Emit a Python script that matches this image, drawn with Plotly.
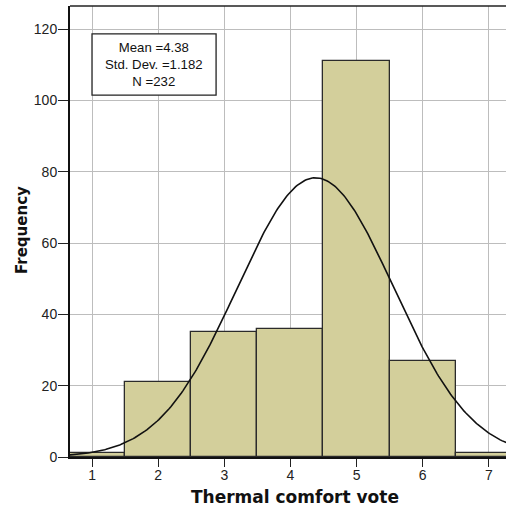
import numpy as np
import plotly.graph_objects as go

# Data
votes = [1, 2, 3, 4, 5, 6, 7]
frequency = [1, 21, 35, 36, 111, 27, 1]
mean_val = 4.38
std_val = 1.182
n_val = 232
x_ticks = [1, 2, 3, 4, 5, 6, 7]
y_ticks = [0, 20, 40, 60, 80, 100, 120]
stats_lines = [f"Mean ={mean_val}", f"Std. Dev. ={std_val}", f"N ={n_val}"]

FONT = "Arial, Liberation Sans, sans-serif"
TFONT = "DejaVu Sans, Arial, sans-serif"

# Fitted normal curve from the reported statistics (bin width 1)
xc = np.linspace(0.6, 7.4, 300)
yc = n_val * 1.0 / (std_val * np.sqrt(2 * np.pi)) * np.exp(-0.5 * ((xc - mean_val) / std_val) ** 2)

fig = go.Figure()
fig.add_trace(go.Bar(
    x=votes, y=frequency, width=1.0,
    marker=dict(color="#d3cf9b", line=dict(color="#2b2b2b", width=1.3)),
    showlegend=False, hoverinfo="x+y",
))
fig.add_trace(go.Scatter(
    x=xc, y=yc, mode="lines",
    line=dict(color="#111111", width=1.6),
    showlegend=False, hoverinfo="skip",
))

# stats box
fig.add_shape(type="rect", xref="x", yref="y", x0=1.0, x1=2.876, y0=101.5, y1=118.7,
              line=dict(color="#222222", width=1.3), fillcolor="white", layer="above")
fig.add_annotation(
    x=1.938, y=110.0, xref="x", yref="y", text="<br>".join(stats_lines),
    showarrow=False, align="center", yanchor="middle", borderpad=0,
    font=dict(family=FONT, size=13.2, color="#111111"),
)

# axis titles
fig.add_annotation(x=(295 - 70) / 436, y=(457 - 497) / 451, xref="paper", yref="paper",
                   text="<b>Thermal comfort vote</b>", showarrow=False,
                   xanchor="center", yanchor="middle",
                   font=dict(family=TFONT, size=17, color="#111111"))
fig.add_annotation(x=(22 - 70) / 436, y=(457 - 230) / 451, xref="paper", yref="paper",
                   text="<b>Frequency</b>", showarrow=False, textangle=-90,
                   xanchor="center", yanchor="middle",
                   font=dict(family=TFONT, size=15, color="#111111"))

# top border
fig.add_shape(type="line", xref="paper", yref="paper", x0=0, x1=1, y0=1, y1=1,
              line=dict(color="#222222", width=1.5))

fig.update_layout(
    width=506, height=511,
    margin=dict(l=70, r=0, t=6, b=54, autoexpand=False),
    paper_bgcolor="white", plot_bgcolor="white",
    bargap=0,
    font=dict(family=FONT, size=14, color="#222222"),
    xaxis=dict(
        range=[0.667, 7.26], tickmode="array", tickvals=x_ticks,
        ticks="outside", ticklen=8, tickwidth=1.3, tickcolor="#222222",
        ticklabelstandoff=-4,
        showgrid=True, gridcolor="#bdbdbd", gridwidth=1,
        showline=True, linecolor="#111111", linewidth=2,
        zeroline=False, automargin=False,
        tickfont=dict(family=FONT, size=14, color="#222222"),
    ),
    yaxis=dict(
        range=[0, 126.5], tickmode="array", tickvals=y_ticks,
        ticks="outside", ticklen=10, tickwidth=1.3, tickcolor="#222222",
        ticklabelstandoff=-2,
        showgrid=True, gridcolor="#bdbdbd", gridwidth=1,
        showline=True, linecolor="#111111", linewidth=2,
        zeroline=False, automargin=False,
        tickfont=dict(family=FONT, size=14, color="#222222"),
    ),
)

post = ("document.body.style.margin='0';document.body.style.padding='0';"
        "document.body.style.overflow='hidden';"
        "Plotly.relayout('{plot_id}', {width:506, height:511});")
fig.write_html("out.html", post_script=post, config={"displayModeBar": False})
